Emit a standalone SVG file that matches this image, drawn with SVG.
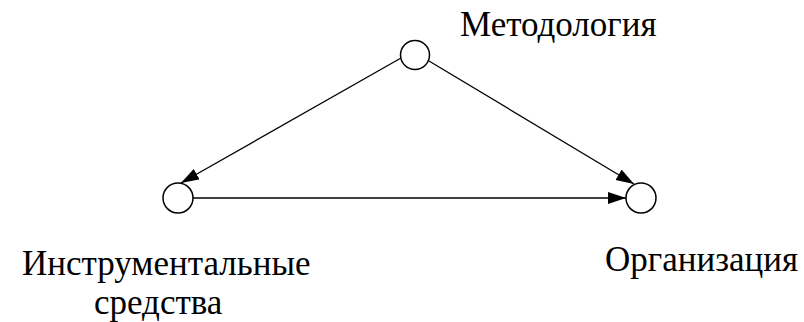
<svg xmlns="http://www.w3.org/2000/svg" width="804" height="322" viewBox="0 0 804 322">
<defs>
<marker id="arr" markerUnits="userSpaceOnUse" markerWidth="20" markerHeight="14" refX="18" refY="6" orient="auto">
<path d="M0,0 L18,6 L0,12 z" fill="#000"/>
</marker>
<style>
.n{fill:#fff;stroke:#000;stroke-width:1.5}
.l{stroke:#000;stroke-width:1.3;fill:none}
.t{fill:#000;font-family:'Liberation Serif','Times New Roman',serif;font-size:35px}
</style>
</defs>
<rect width="804" height="322" fill="#fff"/>
<g id="connectors">
<line class="l" x1="401" y1="58" x2="181" y2="183" marker-end="url(#arr)"/>
<line class="l" x1="429" y1="61" x2="634" y2="184" marker-end="url(#arr)"/>
<line class="l" x1="193" y1="198" x2="626" y2="198" marker-end="url(#arr)"/>
</g>
<g id="metodologia">
<circle class="n" cx="415" cy="55" r="14.5"/>
<text class="t" x="460" y="36">Методология</text>
</g>
<g id="instrumenty">
<circle class="n" cx="178" cy="198" r="15"/>
<text class="t" x="22" y="275">Инструментальные</text>
<text class="t" x="94" y="314">средства</text>
</g>
<g id="organizacia">
<circle class="n" cx="641" cy="198" r="15"/>
<text class="t" x="605" y="271">Организация</text>
</g>
</svg>
